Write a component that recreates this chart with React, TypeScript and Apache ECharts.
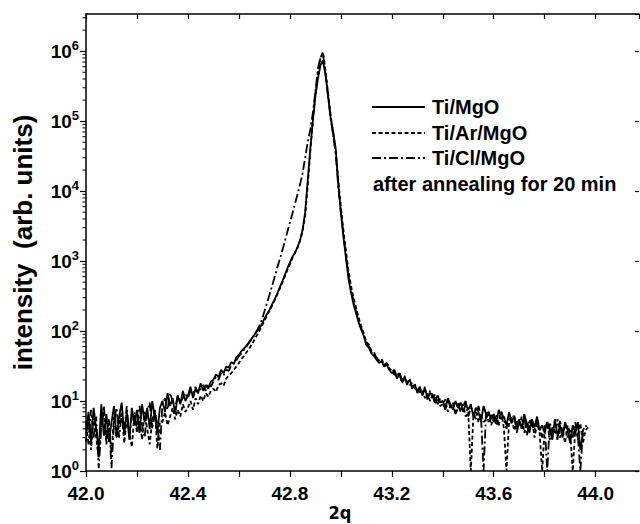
import React, { useEffect, useRef } from "react";
import * as echarts from "echarts";

// ---- data ----
const X_START = 42.0;
const X_STEP = 0.01;
const X_MIN = 42.0;
const X_MAX = 44.17;
const Y_MIN = 1;
const Y_MAX = 3.4e6;

const seriesNames = ["Ti/MgO", "Ti/Ar/MgO", "Ti/Cl/MgO"];
const annotation = "after annealing for 20 min";
const xTickLabels = [42.0, 42.4, 42.8, 43.2, 43.6, 44.0];
const yDecadeExponents = [0, 1, 2, 3, 4, 5, 6];
const xAxisTitle = "2q";
const yAxisTitle = "intensity  (arb. units)";

const tiMgO: (number | null)[] = [
  3.5, 7, 2.5, 8, 4, 2, 9, 3.2, 6.5, 2.6,
  5, 8.5, 3, 6, 9.5, 3.5, 7, 2.8, 8, 4.5,
  7.5, 3.5, 9, 5, 8, 4, 10, 6, 3.5, 8,
  10, 7, 13, 8.5, 11, 6.5, 12, 9, 14, 10,
  12, 16, 11, 15, 13, 18, 14, 17, 15, 19,
  20, 24, 22, 28, 25, 31, 30, 36, 34, 42,
  46, 52, 56, 62, 70, 78, 88, 98, 110, 125,
  150, 175, 200, 240, 282, 340, 417, 510, 630, 780,
  955, 1150, 1320, 1580, 2000, 2800, 5000, 14000, 40000, 100000,
  224000, 400000, 630000, 740000, 450000, 224000, 112000, 71000, 40000, 12600,
  5000, 2240, 1120, 560, 355, 240, 178, 132, 105, 85,
  63, 58, 48, 44, 39, 35, 37, 31, 33, 28,
  25, 27, 21, 24, 19, 22, 18, 20, 16, 17,
  14, 16, 12, 15, 11, 13, 12.5, 10, 12, 9.5,
  10, 8, 11, 9, 7.5, 10, 8, 9.5, 7, 9,
  7.5, 9, 6, 8, 7, 5, 8.5, 6.5, 7, 5.5,
  6.5, 5, 7.5, 5.5, 6, 4.5, 7, 5, 6, 4.2,
  5.5, 4, 6.5, 4.8, 3.5, 5.5, 4.2, 6, 3.8, 4.5,
  3.5, 5, 4, 2.8, 5.5, 3.2, 4.5, 3, 5, 3.8,
  2.5, 4.5, 3.5, 5, 2, 3.5, null, null,
];

const tiArMgO: (number | null)[] = [
  2.6, 5, 2, 6.5, 3, 1.5, 4.5, 7, 2.4, 4.8,
  1.8, 6, 3, 4.5, 7, 2.5, 5.5, 3.5, 2.2, 6.5,
  3.5, 6, 2.8, 7, 4, 2.4, 5.5, 7.5, 2.1, 5,
  5, 7, 4.5, 6, 8, 5.5, 7.5, 6, 9, 7,
  8, 10, 7.5, 11, 9, 12, 10, 13, 11.5, 14,
  15, 13.5, 17, 18, 16.5, 21, 23, 25, 28, 31,
  35, 40, 44, 50, 56, 64, 74, 86, 100, 118,
  140, 165, 195, 230, 275, 330, 400, 490, 600, 740,
  900, 1100, 1300, 1550, 1950, 2700, 4500, 12000, 36000, 100000,
  250000, 480000, 800000, 980000, 520000, 250000, 120000, 66000, 36000, 14000,
  6000, 2800, 1400, 720, 440, 300, 215, 155, 118, 94,
  70, 64, 52, 50, 41, 38, 40, 33, 34, 29,
  27, 24, 23, 25, 18, 21, 19, 17, 18, 15,
  15, 13, 14, 11, 13, 10, 12, 9, 11, 8.5,
  9, 10.5, 7, 8.5, 9.5, 6.5, 8, 7.5, 9, 6,
  7, 1, 6, 7.5, 5, 6.5, 5, 5.5, 7, 4.5,
  6, 4.5, 5.5, 7, 4, 1, 5, 6, 3.8, 5.2,
  4.5, 6, 3.5, 5, 4, 5.5, 3, 4.8, 3.5, 1,
  4, 5, 2.8, 4.2, 3.5, 5.5, 3, 4, 2.5, 4.5,
  3.5, 1, 4, 3, 4.8, 2.5, 3.8, 4.2,
];

const tiClMgO: (number | null)[] = [
  5, 2.4, 7.5, 3, 6, 1.1, 4.5, 8.5, 2.8, 5.5,
  1.1, 5, 8, 3, 6.5, 3.5, 8.5, 3.2, 6, 7,
  4, 8.5, 4.5, 3, 7, 9.5, 4, 7.5, 4.5, 2,
  9, 11, 7.5, 13, 10, 8, 12, 9.5, 11, 13,
  11, 14, 12.5, 16, 13, 15, 17, 14, 18, 16,
  19, 22, 20, 25, 23, 28, 27, 32, 35, 38,
  44, 48, 54, 60, 68, 76, 86, 100, 120, 145,
  190, 250, 330, 440, 590, 790, 1050, 1400, 1900, 2600,
  3500, 4800, 6600, 9000, 12500, 18000, 30000, 50000, 75000, 130000,
  260000, 560000, 820000, 900000, 480000, 230000, 108000, 62000, 34000, 11500,
  5000, 2400, 1200, 620, 390, 265, 190, 140, 110, 88,
  66, 61, 50, 46, 42, 36, 39, 32, 35, 30,
  26, 28, 22, 26, 20, 23, 17, 21, 15, 18,
  13, 15, 12, 16, 10.5, 14, 11, 12.5, 9, 11,
  9.5, 7.5, 10.5, 8, 9, 6.5, 9.5, 7, 8.5, 10,
  6, 8, 7, 5.5, 8.5, 6, 1, 7, 5, 6.5,
  5, 6.5, 4.5, 7, 5.5, 4, 6, 4.8, 6.5, 3.5,
  5, 4, 6, 3.2, 5.5, 4.5, 3.8, 5.2, 4, 3,
  4.5, 1, 5, 3.5, 4, 2.8, 5.2, 3.6, 4.4, 3,
  4, 3, 5, 3.2, 1, 3.8, 4.5, 4,
];

const seriesValues = [tiMgO, tiArMgO, tiClMgO];
const seriesDashes: (number[] | "solid")[] = ["solid", [4, 2.5], [9, 3, 2, 3]];

// ---- helpers ----
const toPairs = (arr: (number | null)[]) =>
  arr
    .map((v, i) => [Math.round((X_START + i * X_STEP) * 100) / 100, v])
    .filter((p) => p[1] !== null);

const minorTickValues: number[] = [];
yDecadeExponents.forEach((e) => {
  for (let m = 2; m <= 9; m++) {
    const v = m * Math.pow(10, e);
    if (v < Y_MAX) minorTickValues.push(v);
  }
});

const FONT = '"Liberation Sans", Arial, Helvetica, sans-serif';
const NARROW = '"Liberation Sans Narrow", "DejaVu Sans Condensed", "Liberation Sans", sans-serif';

export default function App() {
  const ref = useRef<HTMLDivElement>(null);

  useEffect(() => {
    if (!ref.current) return;
    const chart = echarts.init(ref.current, null, { renderer: "svg" });

    const lineSeries = seriesValues.map((vals, k) => ({
      name: seriesNames[k],
      type: "line",
      data: toPairs(vals),
      showSymbol: false,
      symbol: "none",
      clip: true,
      lineStyle: { color: "#000", width: 1.8, type: seriesDashes[k] },
      z: 3,
    }));

    const legendY = [107, 133, 158];
    const graphics: any[] = [];
    seriesNames.forEach((name, k) => {
      graphics.push({
        type: "line",
        shape: { x1: 372, y1: legendY[k], x2: 425, y2: legendY[k] },
        style: {
          stroke: "#000",
          lineWidth: 1.8,
          lineDash: seriesDashes[k] === "solid" ? null : seriesDashes[k],
        },
      });
      graphics.push({
        type: "text",
        x: 432,
        y: legendY[k],
        style: {
          text: name,
          fill: "#000",
          font: `bold 20px ${FONT}`,
          textVerticalAlign: "middle",
          verticalAlign: "middle",
        },
      });
    });
    graphics.push({
      type: "text",
      x: 373,
      y: 184,
      style: {
        text: annotation,
        fill: "#000",
        font: `bold 20px ${FONT}`,
        verticalAlign: "middle",
        textVerticalAlign: "middle",
      },
    });
    graphics.push({
      type: "text",
      x: 340,
      y: 512,
      style: {
        text: xAxisTitle,
        fill: "#000",
        font: `bold 18px ${NARROW}`,
        align: "center",
        textAlign: "center",
        verticalAlign: "middle",
        textVerticalAlign: "middle",
      },
    });

    const isLabelX = (v: number) => xTickLabels.some((t) => Math.abs(t - v) < 1e-6);

    const option: any = {
      animation: false,
      backgroundColor: "#fff",
      grid: { left: 86, right: 1, top: 14, bottom: 53, containLabel: false },
      xAxis: [
        {
          type: "value",
          min: X_MIN,
          max: X_MAX,
          interval: 0.2,
          axisLine: { show: true, onZero: false, lineStyle: { color: "#000", width: 1.5 } },
          axisTick: { show: true, inside: false, length: 6, lineStyle: { color: "#000", width: 1.2 } },
          axisLabel: {
            show: true,
            margin: 13,
            color: "#000",
            fontSize: 19,
            fontWeight: "bold",
            fontFamily: FONT,
            showMaxLabel: false,
            formatter: (v: number) => (isLabelX(v) ? v.toFixed(1) : ""),
          },
          splitLine: { show: false },
        },
        {
          type: "value",
          position: "top",
          min: X_MIN,
          max: X_MAX,
          interval: 0.2,
          axisLine: { show: true, onZero: false, lineStyle: { color: "#000", width: 1.5 } },
          axisTick: { show: true, inside: true, length: 5, lineStyle: { color: "#000", width: 1.2 } },
          axisLabel: { show: false },
          splitLine: { show: false },
        },
      ],
      yAxis: [
        {
          type: "log",
          logBase: 10,
          min: Y_MIN,
          max: Y_MAX,
          splitNumber: 6,
          name: yAxisTitle,
          nameLocation: "middle",
          nameGap: 50,
          nameTextStyle: { color: "#000", fontSize: 26, fontWeight: "bold", fontFamily: FONT },
          axisLine: { show: true, onZero: false, lineStyle: { color: "#000", width: 1.5 } },
          axisTick: { show: true, inside: false, length: 6, lineStyle: { color: "#000", width: 1.2 } },
          axisLabel: {
            show: true,
            margin: 7,
            color: "#000",
            showMaxLabel: false,
            formatter: (v: number) => {
              const e = Math.round(Math.log10(v));
              if (Math.abs(Math.log10(v) - e) > 1e-6) return "";
              if (!yDecadeExponents.includes(e)) return "";
              return `{b|10}{s|${e}}`;
            },
            rich: {
              b: { fontSize: 19, fontWeight: "bold", fontFamily: FONT, color: "#000" },
              s: { fontSize: 13, fontWeight: "bold", fontFamily: FONT, color: "#000", padding: [0, 0, 12, 0] },
            },
          },
          splitLine: { show: false },
        },
        {
          type: "log",
          logBase: 10,
          position: "right",
          min: Y_MIN,
          max: Y_MAX,
          splitNumber: 6,
          axisLine: { show: false },
          axisTick: { show: true, inside: true, length: 4, lineStyle: { color: "#000", width: 1.2 } },
          axisLabel: { show: false },
          splitLine: { show: false },
        },
      ],
      series: [
        ...lineSeries,
        {
          type: "custom",
          name: "minorTicks",
          xAxisIndex: 0,
          yAxisIndex: 0,
          clip: false,
          silent: true,
          data: minorTickValues.map((v) => [X_MIN, v]),
          renderItem: (params: any, api: any) => {
            const p = api.coord([X_MIN, api.value(1)]);
            return {
              type: "line",
              shape: { x1: p[0] - 3.5, y1: p[1], x2: p[0], y2: p[1] },
              style: { stroke: "#000", lineWidth: 1 },
            };
          },
        },
      ],
      graphic: graphics,
    };

    chart.setOption(option);
    return () => chart.dispose();
  }, []);

  return (
    <div
      ref={ref}
      style={{ position: "fixed", left: 0, top: 0, width: 640, height: 524, background: "#fff" }}
    />
  );
}
